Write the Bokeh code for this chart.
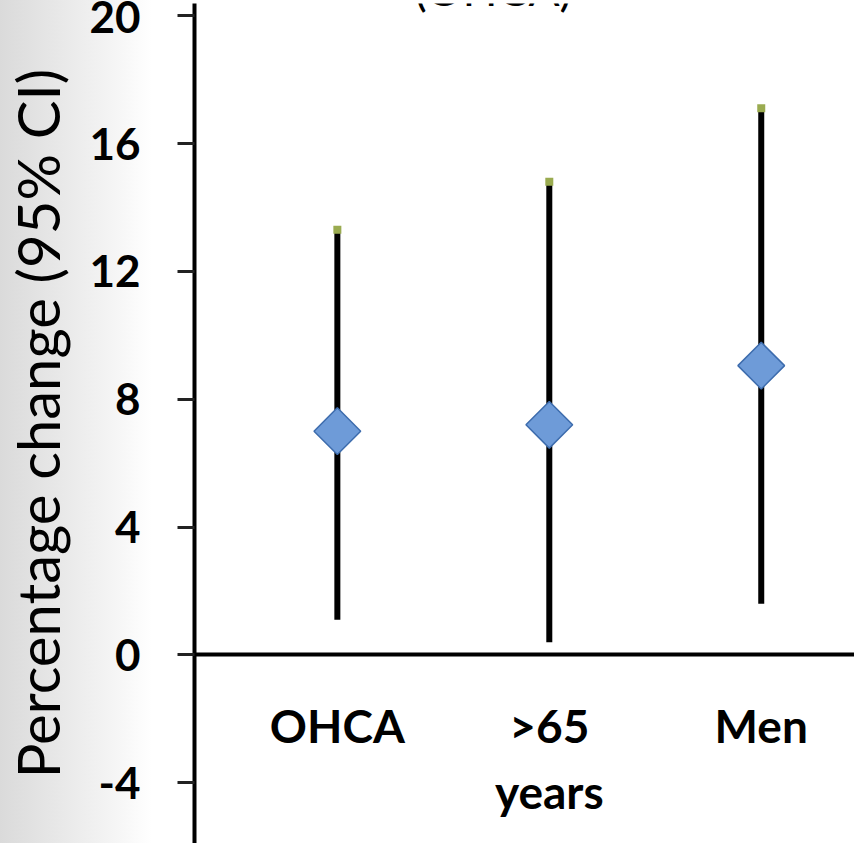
import numpy as np
from bokeh.plotting import figure
from bokeh.models import Range1d, Label, FixedTicker, ColumnDataSource
from bokeh.embed import file_html
from bokeh.resources import INLINE

# ---- data ----
categories = ["OHCA", ">65\nyears", "Men"]
estimate = [7.0, 7.2, 9.05]
lower_ci = [1.1, 0.4, 1.6]
upper_ci = [13.3, 14.8, 17.1]
y_ticks = [-4, 0, 4, 8, 12, 16, 20]
y_tick_labels = ["-4", "0", "4", "8", "12", "16", "20"]
title_text = "(OHCA)"
y_label = "Percentage change (95% CI)"

xpos = list(range(len(categories)))
src = ColumnDataSource(dict(x=xpos, est=estimate, lo=lower_ci, hi=upper_ci))

p = figure(width=854, height=843, output_backend="svg", toolbar_location=None,
           x_range=Range1d(-0.674, 2.44), y_range=Range1d(-5.9, 20.38),
           min_border_left=0, min_border_right=0, min_border_top=3, min_border_bottom=0)
p.outline_line_color = None
p.xgrid.grid_line_color = None
p.ygrid.grid_line_color = None
p.background_fill_color = "white"
p.border_fill_alpha = 0.0
p.styles = {"background-image": "linear-gradient(to right, #dadada 0px, #f4f4f4 110px, #ffffff 152px, #ffffff 100%)"}

# y axis
ya = p.yaxis[0]
ya.ticker = FixedTicker(ticks=y_ticks)
ya.major_label_overrides = {t: s for t, s in zip(y_ticks, y_tick_labels)}
ya.axis_line_width = 4
ya.axis_line_color = "black"
ya.major_tick_line_width = 3
ya.major_tick_line_color = "#222222"
ya.major_tick_out = 17
ya.major_tick_in = 0
ya.minor_tick_line_color = None
ya.major_label_standoff = 37
ya.major_label_text_font = "Lato"
ya.major_label_text_font_style = "bold"
ya.major_label_text_font_size = "44px"
ya.major_label_text_color = "black"
ya.axis_label = y_label
ya.axis_label_text_font = "Lato"
ya.axis_label_text_font_style = "normal"
ya.axis_label_text_font_size = "58px"
ya.axis_label_text_color = "black"
ya.axis_label_standoff = 14

# x axis at zero
xa = p.xaxis[0]
xa.fixed_location = 0
xa.ticker = FixedTicker(ticks=xpos)
xa.major_label_overrides = {i: c for i, c in enumerate(categories)}
xa.axis_line_width = 4
xa.axis_line_color = "black"
xa.major_tick_line_color = None
xa.minor_tick_line_color = None
xa.major_label_standoff = 37
xa.major_label_text_font = "Lato"
xa.major_label_text_font_style = "bold"
xa.major_label_text_font_size = "46px"
xa.major_label_text_color = "black"
xa.major_label_text_line_height = 1.2

# CI bars
p.segment(x0="x", y0="lo", x1="x", y1="hi", source=src, line_color="black", line_width=6)
p.scatter(x="x", y="hi", source=src, marker="square", size=8,
          fill_color="#9aab50", line_color=None)
# estimates
p.scatter(x="x", y="est", source=src, marker="square", angle=np.pi / 4, size=33,
          fill_color="#6e9bd8", line_color="#3d6cad", line_width=1.5)

# cropped title
p.add_layout(Label(x=0.735, y=20.855, text=title_text, text_align="center",
                   text_baseline="alphabetic", text_font="Lato", text_font_size="46px",
                   text_color="black"))

open("out.html", "w").write(file_html(p, INLINE))
